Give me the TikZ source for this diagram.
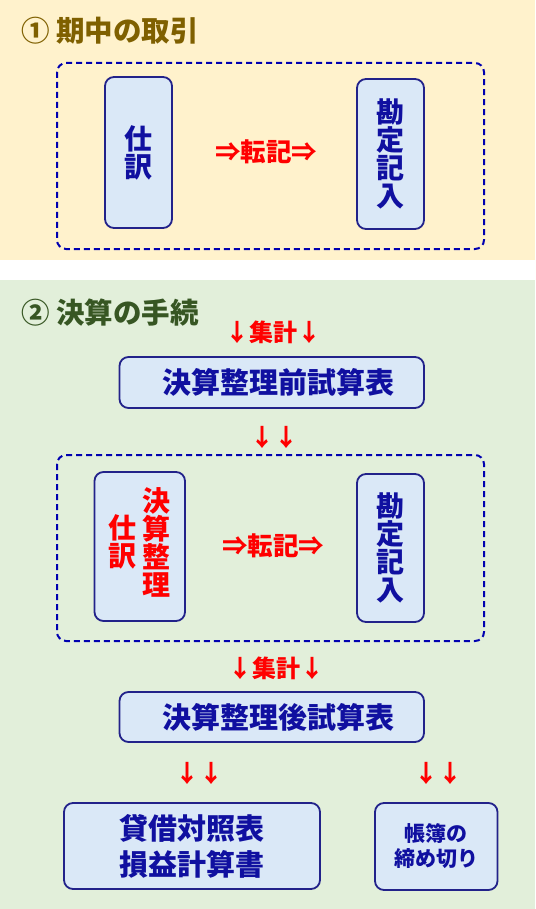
\documentclass[tikz,border=0pt]{standalone}
\usepackage{fontspec}
\setmainfont{Noto Sans CJK JP}
\definecolor{bgyellow}{HTML}{FFF2CC}
\definecolor{bggreen}{HTML}{E2EFDA}
\definecolor{boxfill}{HTML}{DAE8F7}
\definecolor{boxline}{HTML}{22228A}
\definecolor{navytext}{HTML}{1010A0}
\definecolor{dashline}{HTML}{0000B0}
\definecolor{titlegold}{HTML}{7F6000}
\definecolor{titlegreen}{HTML}{375623}
\definecolor{redtext}{HTML}{FF0000}
\tikzset{
  box/.style={draw=boxline, line width=1.8pt, fill=boxfill, rounded corners=9pt, inner sep=0pt, align=center, text=navytext, font=\bfseries\fontsize{28}{28}\selectfont},
  dashbox/.style={draw=dashline, line width=2pt, dash pattern=on 6pt off 4pt, rounded corners=9pt},
  redlabel/.style={text=redtext, inner sep=0pt, font=\bfseries\fontsize{24}{24}\selectfont},
  redvert/.style={text=redtext, inner sep=0pt, align=center, font=\bfseries\fontsize{28}{28}\selectfont},
  title/.style={anchor=west, inner sep=0pt, font=\bfseries\fontsize{28.5}{28.5}\selectfont},
}
\begin{document}
\begin{tikzpicture}[x=1pt,y=-1pt]
\useasboundingbox (0,0) rectangle (535,909);
\fill[bgyellow] (0,0) rectangle (535,260);
\fill[white] (0,260) rectangle (535,280);
\fill[bggreen] (0,280) rectangle (535,909);

% Section 1
\node[title, text=titlegold] (t1) at (21,31) {① 期中の取引};
\draw[dashbox] (57,63) rectangle (484,249);
\node[box, minimum width=67pt, minimum height=151pt] (sw1) at (138.5,152.5) {仕\\訳};
\node[box, minimum width=67pt, minimum height=150pt] (kj1) at (390.5,154) {勘\\定\\記\\入};
\node[redlabel, font=\bfseries\fontsize{25.5}{25.5}\selectfont] (tk1) at (266,152) {⇒転記⇒};

% Section 2
\node[title, text=titlegreen] (t2) at (21,313) {② 決算の手続};
\node[redlabel] (sk1) at (273,332) {↓集計↓};
\node[box, minimum width=304.5pt, minimum height=51pt, font=\bfseries\fontsize{29}{29}\selectfont] (mae) at (271.75,382.5) {\hspace*{14pt}決算整理前試算表};
\node[redlabel] (dd1) at (274,437) {↓↓};
\draw[dashbox] (57,455) rectangle (484,641);
\node[box, minimum width=90.5pt, minimum height=149pt] (sw2) at (139.75,546.5) {};
\node[redvert] (sw2a) at (122,542) {仕\\訳};
\node[redvert] (sw2b) at (156.6,542) {決\\算\\整\\理};
\node[redlabel, font=\bfseries\fontsize{25.5}{25.5}\selectfont] (tk2) at (273,546) {⇒転記⇒};
\node[box, minimum width=67pt, minimum height=148pt] (kj2) at (390.5,548) {勘\\定\\記\\入};
\node[redlabel] (sk2) at (276,668) {↓集計↓};
\node[box, minimum width=304.5pt, minimum height=50pt, font=\bfseries\fontsize{29}{29}\selectfont] (ato) at (271.75,717) {\hspace*{14pt}決算整理後試算表};
\node[redlabel] (dd2) at (199,773) {↓↓};
\node[redlabel] (dd3) at (438,773) {↓↓};
\node[box, minimum width=256pt, minimum height=86pt, font=\bfseries\fontsize{29}{36}\selectfont] (bs) at (192,846) {貸借対照表\\損益計算書};
\node[box, minimum width=122.5pt, minimum height=87pt, font=\bfseries\fontsize{21}{25}\selectfont] (chobo) at (436.25,846.5) {帳簿の\\締め切り};
\end{tikzpicture}
\end{document}
